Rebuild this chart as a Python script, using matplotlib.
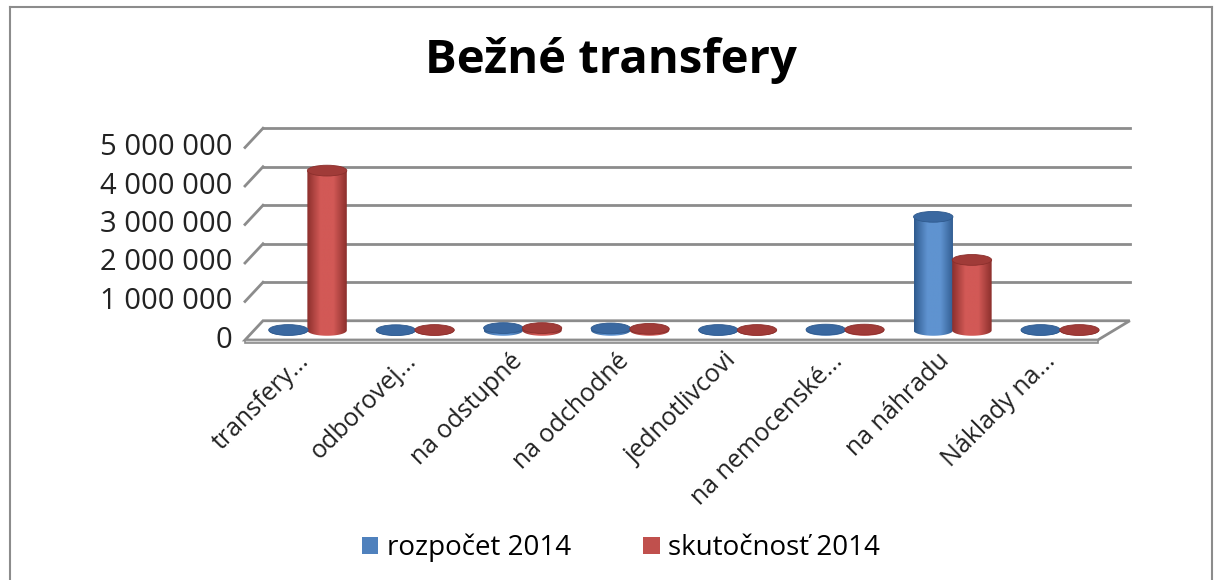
import matplotlib.pyplot as plt
import numpy as np
from matplotlib.patches import Ellipse, Polygon, Rectangle
from matplotlib.colors import LinearSegmentedColormap
from matplotlib.lines import Line2D

plt.rcParams['font.family'] = ['Open Sans', 'DejaVu Sans']

# data
categories = ["transfery...", "odborovej...", "na odstupné", "na odchodné",
              "jednotlivcovi", "na nemocenské...", "na náhradu", "Náklady na..."]
rozpocet_2014 = [10000, 5000, 60000, 50000, 10000, 20000, 2950000, 10000]
skutocnost_2014 = [4150000, 10000, 60000, 40000, 10000, 20000, 1830000, 10000]
series_names = ["rozpočet 2014", "skutočnosť 2014"]
yticks = [0, 1000000, 2000000, 3000000, 4000000, 5000000]

W, H = 1222, 580
fig = plt.figure(figsize=(W / 100, H / 100), dpi=100)
ax = fig.add_axes([0, 0, 1, 1])
ax.set_axis_off()

# pixel layout -> data limits
px_cat = 106.6          # pixels per category
px_val = 38.5 / 1e6     # pixels per unit value
x_front_left_px = 245
zero_px_from_top = 340
x0 = -0.5 - x_front_left_px / px_cat
ax.set_xlim(x0, x0 + W / px_cat)
y0 = -(H - zero_px_from_top) / px_val
ax.set_ylim(y0, y0 + H / px_val)

n = len(categories)
DY = 0.5e6
back_left = -0.5 + 18 / px_cat
back_right = n - 0.5 + 32 / px_cat


def depth(x, f):
    # fake 3D: move a front point back by fraction f of the depth
    bx = back_left + (x + 0.5) * (back_right - back_left) / n
    return x + f * (bx - x), f * DY


grid_col = "#8c8c8c"

# floor slab
fl = [depth(-0.5, 0), depth(n - 0.5, 0), depth(n - 0.5, 1), depth(-0.5, 1)]
ax.add_patch(Polygon(fl, closed=True, facecolor="white", edgecolor=grid_col, lw=2, zorder=2))
ax.add_patch(Polygon([(-0.5, 0), (n - 0.5, 0), (n - 0.5, -0.07e6), (-0.5, -0.07e6)],
                     closed=True, facecolor="#d0d0d0", edgecolor=grid_col, lw=1.2, zorder=2))

# gridlines: left wall slants and back wall lines
for v in yticks[1:]:
    bl = depth(-0.5, 1)
    br = depth(n - 0.5, 1)
    ax.plot([-0.5, bl[0]], [v, v + DY], color=grid_col, lw=2, zorder=1)
    ax.plot([bl[0], br[0]], [v + DY, v + DY], color=grid_col, lw=2, zorder=1)

for v in yticks:
    ax.text(-0.5 - 0.12, v, f"{v:,}".replace(",", " "), ha="right", va="center",
            fontsize=21, color="#222222")

# cylinders
bw = 0.37
eh = 0.28e6
palettes = [
    ("#2f5a8e", "#5f93d0", "#3a68a0"),   # edge, highlight, top
    ("#8b2f2c", "#d25956", "#a03b38"),
]
grad = np.linspace(0, 1, 128).reshape(1, -1)

for s, vals in enumerate([rozpocet_2014, skutocnost_2014]):
    dark, light, top = palettes[s]
    cmap = LinearSegmentedColormap.from_list("c", [dark, light, light, dark], N=256)
    for i, v in enumerate(vals):
        fx = i + (-0.18 if s == 0 else 0.18)
        cx, base = depth(fx, 0.5)
        xl, xr = cx - bw / 2, cx + bw / 2
        top_y = base + v
        # body = rectangle + lower half ellipse
        t = np.linspace(np.pi, 2 * np.pi, 40)
        verts = [(xl, top_y)] + [(cx + bw / 2 * np.cos(a), base + eh / 2 * np.sin(a)) for a in t] \
            + [(xr, top_y), (xl, top_y)]
        clip = Polygon(verts, closed=True, facecolor="none", edgecolor="none", transform=ax.transData)
        ax.add_patch(clip)
        im = ax.imshow(grad, cmap=cmap, extent=[xl, xr, base - eh / 2, top_y],
                       aspect="auto", zorder=3, interpolation="bilinear")
        im.set_clip_path(clip)
        ax.add_patch(Ellipse((cx, top_y), bw, eh, facecolor=top, edgecolor=dark, lw=0.6, zorder=4))

# category labels
for i, c in enumerate(categories):
    ax.text(i + 0.07, -0.45e6, c, rotation=45, rotation_mode="anchor", ha="right", va="center",
            fontsize=18, color="#222222")

# title
fig.text(0.5, 1 - 60 / H, "Bežné transfery", ha="center", va="center", fontsize=34,
         fontweight="bold", color="black")

# legend
handles = [Rectangle((0, 0), 1, 1, facecolor="#4f81bd"), Rectangle((0, 0), 1, 1, facecolor="#c0504d")]
fig.legend(handles, series_names, loc="center", bbox_to_anchor=(0.508, 1 - 548 / H), ncol=2,
           frameon=False, fontsize=20, handlelength=0.6, handleheight=0.6, handletextpad=0.3,
           columnspacing=2.6)

# outer chart border
for xs, ys in [([10, 10], [0, 573]), ([10, 1212], [573, 573]), ([1212, 1212], [573, 0])]:
    fig.add_artist(Line2D(np.array(xs) / W, np.array(ys) / H, color="#8c8c8c", lw=1.5))

fig.savefig("out.png", dpi=100, facecolor="white")
